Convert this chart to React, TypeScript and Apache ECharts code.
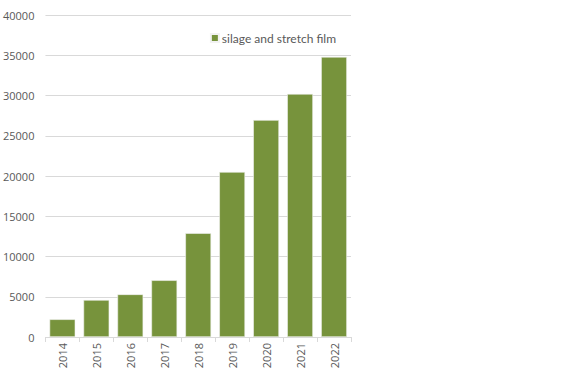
import React, { useEffect, useRef } from "react";
import * as echarts from "echarts";

const years = ["2014", "2015", "2016", "2017", "2018", "2019", "2020", "2021", "2022"];
const filmValues = [2200, 4600, 5300, 7050, 12900, 20500, 26950, 30200, 34800];
const seriesName = "silage and stretch film";

export default function App() {
  const ref = useRef<HTMLDivElement>(null);
  useEffect(() => {
    if (!ref.current) return;
    const chart = echarts.init(ref.current, null, { renderer: "svg" });
    chart.setOption({
      animation: false,
      textStyle: { fontFamily: "Open Sans, sans-serif" },
      grid: { left: 44, right: 229, top: 15, bottom: 38, containLabel: false },
      legend: {
        data: [seriesName],
        right: 239,
        top: 27,
        itemWidth: 8,
        itemHeight: 8,
        itemGap: 4,
        icon: "rect",
        textStyle: { fontSize: 12, color: "#595959", fontFamily: "Lato, sans-serif", padding: [0, 0, 0, -2] },
      },
      xAxis: {
        type: "category",
        data: years,
        axisLine: { show: true, lineStyle: { color: "#d9d9d9" } },
        axisTick: { show: true, alignWithLabel: false, length: 5, lineStyle: { color: "#d9d9d9" } },
        axisLabel: { rotate: 90, color: "#595959", fontSize: 11, margin: 6 },
      },
      yAxis: {
        type: "value",
        min: 0,
        max: 40000,
        interval: 5000,
        axisLine: { show: false },
        axisTick: { show: false },
        splitLine: { lineStyle: { color: "#d9d9d9" } },
        axisLabel: { color: "#595959", fontSize: 11, margin: 11, formatter: (v: number) => String(v) },
      },
      series: [
        {
          name: seriesName,
          type: "bar",
          data: filmValues,
          barCategoryGap: "24%",
          itemStyle: { color: "#77933c", borderColor: "#f2f2f2", borderWidth: 0.6 },
        },
      ],
    });
    return () => chart.dispose();
  }, []);
  return <div ref={ref} style={{ position: "absolute", left: 0, top: 0, width: 580, height: 375 }} />;
}
